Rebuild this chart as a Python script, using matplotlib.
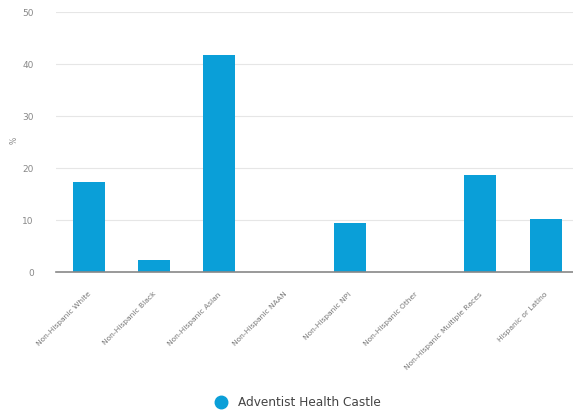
import matplotlib
matplotlib.use('Agg')
import matplotlib.pyplot as plt
import matplotlib.transforms as mtransforms
from matplotlib.lines import Line2D

categories = ['Non-Hispanic White', 'Non-Hispanic Black', 'Non-Hispanic Asian',
              'Non-Hispanic NAAN', 'Non-Hispanic NPI', 'Non-Hispanic Other',
              'Non-Hispanic Multiple Races', 'Hispanic or Latino']
values = [17.3, 2.3, 41.7, 0, 9.4, 0, 18.6, 10.2]
series_name = 'Adventist Health Castle'
yticks = [0, 10, 20, 30, 40, 50]

bar_color = '#0a9fd8'

fig = plt.figure(figsize=(5.73, 4.12), dpi=100)
ax = fig.add_axes([56/573, 1 - 272/412, 1 - 56/573, 260/412])

x = range(len(categories))
ax.bar(x, values, width=0.49, color=bar_color, zorder=3)

ax.set_ylim(0, 50)
ax.set_xlim(-0.5, 7.42)
ax.set_yticks(yticks)
ax.set_yticklabels([str(t) for t in yticks], fontsize=6.5, color='#888888')
ax.tick_params(axis='y', length=0, pad=16)
ax.tick_params(axis='x', length=0, pad=0)
ax.set_xticks(list(x))
ax.set_xticklabels(categories, rotation=45, ha='right', rotation_mode='anchor',
                   fontsize=5.4, color='#777777')
# shift labels down like the original
offset = mtransforms.ScaledTranslation(-0.01, -0.19, fig.dpi_scale_trans)
for lbl in ax.get_xticklabels():
    lbl.set_transform(lbl.get_transform() + offset)

ax.grid(axis='y', color='#e6e6e6', linewidth=0.8, zorder=0)
for s in ['top', 'right', 'left']:
    ax.spines[s].set_visible(False)
ax.spines['bottom'].set_color('#888888')
ax.spines['bottom'].set_linewidth(1.2)
ax.spines['bottom'].set_zorder(4)

fig.text(14/573, 1 - 140/412, '%', fontsize=5.5, color='#888888',
         rotation=90, ha='center', va='center')

handle = Line2D([], [], marker='o', linestyle='none', markersize=9,
                markerfacecolor=bar_color, markeredgecolor=bar_color)
fig.legend([handle], [series_name], loc='center', bbox_to_anchor=(0.515, 1 - 403/412),
           frameon=False, fontsize=8.7, handletextpad=0.4, labelcolor='#444444')

fig.savefig('out.png', dpi=100)
